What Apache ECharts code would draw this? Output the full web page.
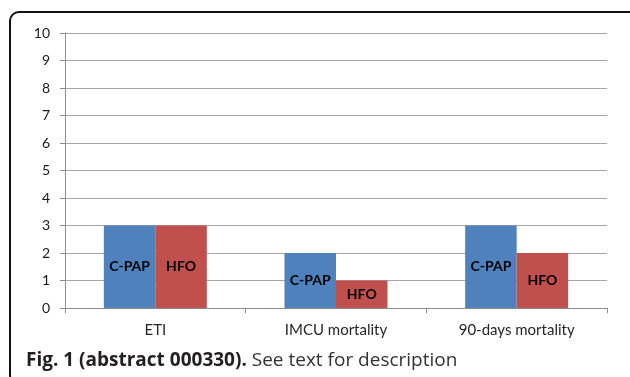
<!DOCTYPE html>
<html>
<head>
<meta charset="utf-8">
<script src="https://cdn.jsdelivr.net/npm/echarts@6/dist/echarts.min.js"></script>
<style>
html,body{margin:0;padding:0;background:#fff;}
#c{width:630px;height:377px;}
</style>
</head>
<body>
<div id="c"></div>
<script>
const categories = ["ETI", "IMCU mortality", "90-days mortality"];
const cpapValues = [3, 2, 3];
const hfoValues = [3, 1, 2];
const yTicks = [0, 1, 2, 3, 4, 5, 6, 7, 8, 9, 10];
const seriesNames = ["C-PAP", "HFO"];
const captionBold = "Fig. 1 (abstract 000330).";
const captionRest = " See text for description";

const chart = echarts.init(document.getElementById('c'), null, {renderer: 'canvas'});
const labelStyle = {
  show: true,
  position: 'inside',
  formatter: '{a}',
  color: '#000',
  fontFamily: 'Lato',
  fontWeight: 'bold',
  fontSize: 14
};
chart.setOption({
  animation: false,
  backgroundColor: '#fff',
  grid: {left: 65, right: 23, top: 33, bottom: 69},
  xAxis: {
    type: 'category',
    data: categories,
    axisLine: {lineStyle: {color: '#8c8c8c', width: 1}},
    axisTick: {show: true, length: 5, lineStyle: {color: '#8c8c8c'}},
    axisLabel: {color: '#262626', fontFamily: 'Lato', fontSize: 15, margin: 15}
  },
  yAxis: {
    type: 'value',
    min: yTicks[0],
    max: yTicks[yTicks.length - 1],
    interval: 1,
    axisLine: {show: true, lineStyle: {color: '#8c8c8c', width: 1}},
    axisTick: {show: true, length: 5, lineStyle: {color: '#8c8c8c'}},
    axisLabel: {color: '#1a1a1a', fontFamily: 'Lato', fontSize: 14, margin: 15},
    splitLine: {lineStyle: {color: '#a6a6a6', width: 1}}
  },
  series: [
    {
      name: seriesNames[0], type: 'bar', data: cpapValues,
      barGap: '0%', barCategoryGap: '43%',
      itemStyle: {color: '#4f81bd'},
      label: labelStyle
    },
    {
      name: seriesNames[1], type: 'bar', data: hfoValues,
      barGap: '0%', barCategoryGap: '43%',
      itemStyle: {color: '#c0504d'},
      label: labelStyle
    }
  ],
  graphic: [
    {
      type: 'rect',
      shape: {x: 10, y: 12, width: 630, height: 372, r: 9},
      style: {fill: 'none', stroke: '#111', lineWidth: 2},
      silent: true
    },
    {
      type: 'text',
      left: 26, top: 351,
      style: {
        text: '{b|' + captionBold + '}{n|' + captionRest + '}',
        rich: {
          b: {fontFamily: 'Open Sans', fontWeight: 'bold', fontSize: 19, fill: '#231f20'},
          n: {fontFamily: 'Open Sans', fontSize: 19, fill: '#333'}
        }
      }
    }
  ]
});
</script>
</body>
</html>
